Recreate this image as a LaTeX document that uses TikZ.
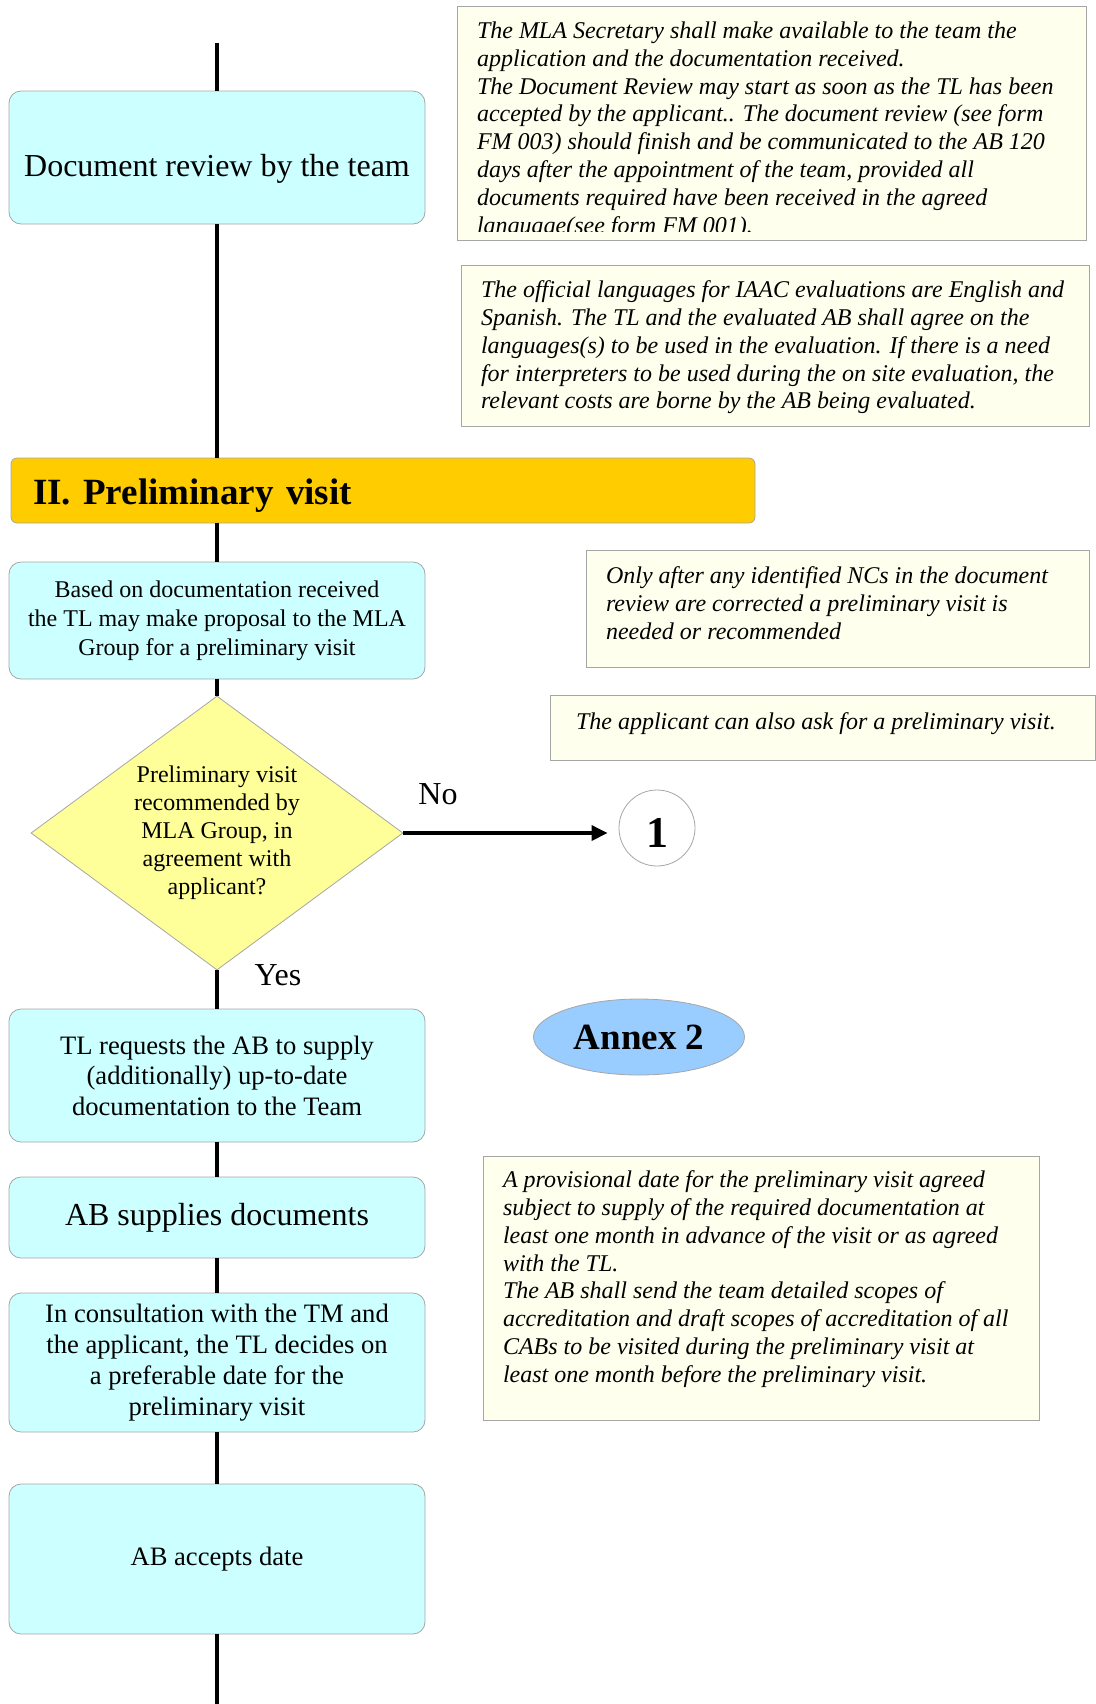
\documentclass[tikz,border=0pt]{standalone}
\usepackage{fontspec}
\setmainfont{Liberation Serif}
\usetikzlibrary{shapes.geometric, arrows.meta}
\definecolor{stepcyan}{HTML}{CCFFFF}
\definecolor{barorange}{HTML}{FFCC00}
\definecolor{askyellow}{HTML}{FFFF99}
\definecolor{notecream}{HTML}{FFFFEE}
\definecolor{annexblue}{HTML}{99CCFF}
\definecolor{rimgray}{HTML}{A6A6A6}

\begin{document}
\begin{tikzpicture}[x=0.5pt, y=-0.5pt,
        stepbox/.style={rectangle, draw=rimgray, fill=stepcyan, rounded corners=6pt, minimum width=208pt, align=center, font=\fontsize{13.3}{15.4}\selectfont},
        note/.style={rectangle, draw=rimgray, fill=notecream},
        notetext/.style={inner sep=0pt, anchor=north west, align=left, font=\fontsize{12}{13.9}\selectfont\itshape},
        flow/.style={line width=1.6pt},
        arrow/.style={-{Triangle[length=8pt, width=7.5pt]}, line width=1.6pt}
    ]
        \useasboundingbox (0,0) rectangle (1096,1704);

        % main column
        \coordinate (top) at (217,43);
        \node[stepbox, minimum height=66.5pt, text height=22pt, font=\fontsize{16}{18}\selectfont] (docrev) at (217,157.5) {Document review by the team};
        \node[rectangle, draw=rimgray, fill=barorange, rounded corners=3pt, minimum height=32.5pt, text width=350pt, text height=18pt, inner xsep=11pt, align=left, font=\bfseries\fontsize{18.5}{20}\selectfont] (prelim) at (383,490.5) {II. Preliminary visit};
        \node[stepbox, minimum height=58.5pt, font=\fontsize{12}{14.4}\selectfont] (based) at (217,620.5) {Based on documentation received\\the TL may make proposal to the MLA\\Group for a preliminary visit};
        \node[diamond, draw=rimgray, fill=askyellow, aspect=1.36, inner sep=0pt, minimum width=186pt, minimum height=137pt, align=center, font=\fontsize{12}{14}\selectfont] (decide) at (217,833) {Preliminary visit\\recommended by\\MLA Group, in\\agreement with\\applicant?};
        \node[stepbox, minimum height=66.5pt, font=\fontsize{13.3}{15.2}\selectfont] (tlreq) at (217,1075.5) {TL requests the AB to supply\\(additionally) up-to-date\\documentation to the Team};
        \node[stepbox, minimum height=40.5pt, font=\fontsize{16}{18}\selectfont] (absup) at (217,1217.5) {AB supplies documents};
        \node[stepbox, minimum height=69.5pt] (consult) at (217,1362.5) {In consultation with the TM and\\the applicant, the TL decides on\\a preferable date for the\\preliminary visit};
        \node[stepbox, minimum height=75pt] (accept) at (217,1559) {AB accepts date};
        \coordinate (bottom) at (217,1704);

        \node[circle, draw=rimgray, fill=white, minimum size=38pt, inner sep=0pt, text height=19pt, font=\bfseries\fontsize{22}{24}\selectfont] (one) at (657,828) {1};
        \node[ellipse, draw=rimgray, fill=annexblue, minimum width=105.5pt, minimum height=38pt, font=\bfseries\fontsize{18.5}{20}\selectfont] (annex) at (639,1037) {Annex 2};
        \node[font=\fontsize{16}{18}\selectfont] (nolbl) at (438,794) {No};
        \node[font=\fontsize{16}{18}\selectfont] (yeslbl) at (278,975) {Yes};

        % notes
        \node[note, minimum width=314.5pt, minimum height=117pt] (secr) at (771.5,123) {};
        \begin{scope}
            \clip (secr.north west) rectangle ([yshift=4.5pt]secr.south east);
            \node[notetext] (secrtxt) at ([shift={(10pt,-7.9pt)}]secr.north west) {The MLA Secretary shall make available to the team the\\application and the documentation received.\\The Document Review may start as soon as the TL has been\\accepted by the applicant.. The document review (see form\\FM 003) should finish and be communicated to the AB 120\\days after the appointment of the team, provided all\\documents required have been received in the agreed\\language(see form FM 001).};
        \end{scope}
        \node[note, minimum width=314pt, minimum height=80.5pt] (lang) at (775,345.5) {};
        \node[notetext] (langtxt) at ([shift={(10pt,-7.9pt)}]lang.north west) {The official languages for IAAC evaluations are English and\\Spanish. The TL and the evaluated AB shall agree on the\\languages(s) to be used in the evaluation. If there is a need\\for interpreters to be used during the on site evaluation, the\\relevant costs are borne by the AB being evaluated.};
        \node[note, minimum width=251.5pt, minimum height=58.5pt] (ncs) at (837.5,608.5) {};
        \node[notetext] (ncstxt) at ([shift={(10pt,-8.5pt)}]ncs.north west) {Only after any identified NCs in the document\\review are corrected a preliminary visit is\\needed or recommended};
        \node[note, minimum width=272.5pt, minimum height=32.5pt] (ask) at (822.5,727.5) {};
        \node[notetext] (asktxt) at ([shift={(13pt,-9pt)}]ask.north west) {The applicant can also ask for a preliminary visit.};
        \node[note, minimum width=278pt, minimum height=132pt] (prov) at (761,1288) {};
        \node[notetext] (provtxt) at ([shift={(10pt,-7.4pt)}]prov.north west) {A provisional date for the preliminary visit agreed\\subject to supply of the required documentation at\\least one month in advance of the visit or as agreed\\with the TL.\\The AB shall send the team detailed scopes of\\accreditation and draft scopes of accreditation of all\\CABs to be visited during the preliminary visit at\\least one month before the preliminary visit.};

        \draw[flow] (top) -- (docrev.north);
        \draw[flow] (docrev.south) -- (docrev.south |- prelim.north);
        \draw[flow] (docrev.south |- prelim.south) -- (based.north);
        \draw[flow] (based.south) -- (decide.north);
        \draw[flow] (decide.south) -- (tlreq.north);
        \draw[flow] (tlreq.south) -- (absup.north);
        \draw[flow] (absup.south) -- (consult.north);
        \draw[flow] (consult.south) -- (accept.north);
        \draw[flow] (accept.south) -- (bottom);
        \draw[arrow, shorten >=5.5pt] (decide.east) -- (decide.east -| one.west);
    \end{tikzpicture}
\end{document}
